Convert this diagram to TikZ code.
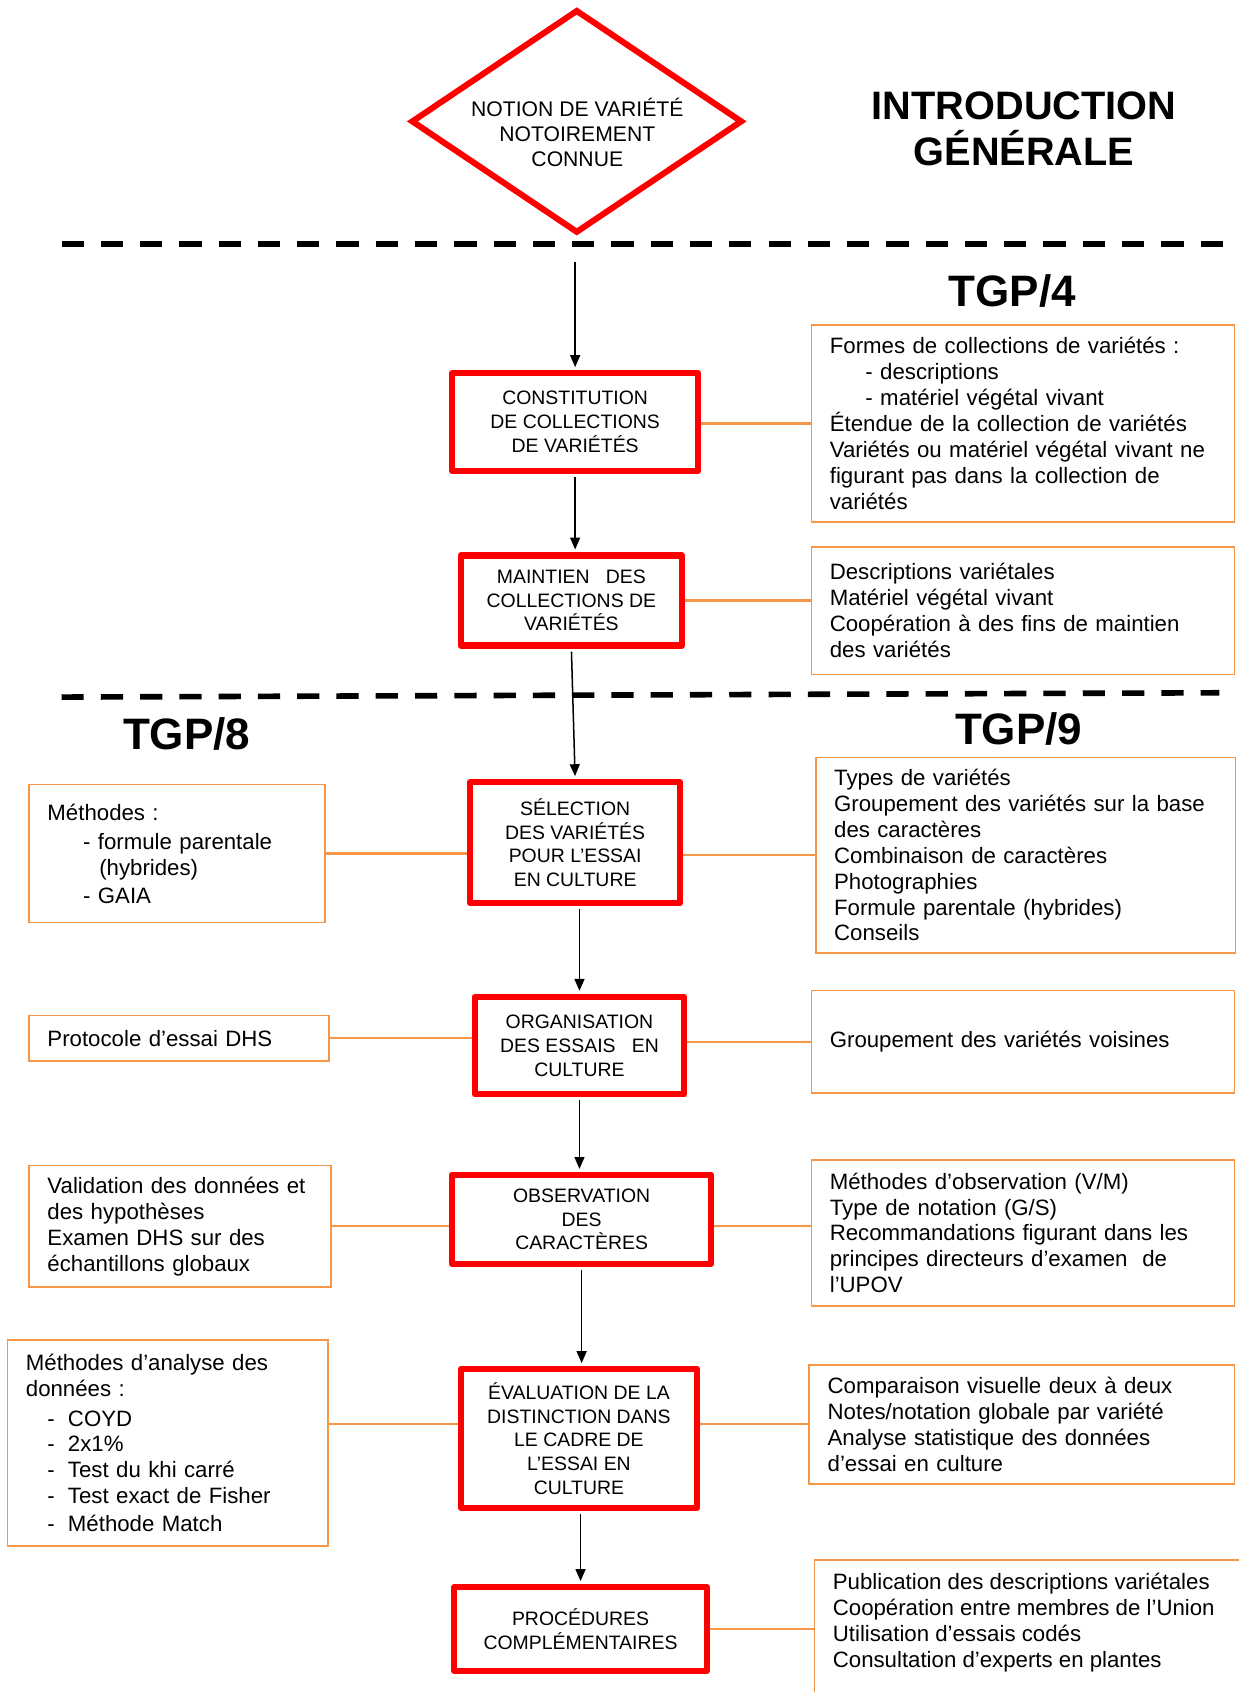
\documentclass[tikz,border=0pt]{standalone}
\usepackage{fontspec}
\setmainfont{Liberation Sans}
\usepackage{tikz}
\usepackage{xcolor}
\usetikzlibrary{shapes.geometric,arrows.meta}
\definecolor{boxred}{RGB}{255,0,0}
\definecolor{boxorange}{RGB}{247,150,70}
\newcommand{\listdash}{\hspace*{10pt}\makebox[9.5pt][l]{-}}

\begin{document}
\begin{tikzpicture}
[x=0.5pt,y=-0.5pt,
      stage/.style={draw=boxred,line width=2.8pt,line join=round,align=center,
        inner sep=0pt,font=\fontsize{9}{11}\selectfont},
      info/.style={draw=boxorange,line width=0.8pt,align=left,inner xsep=8.5pt,
        font=\fontsize{10.3}{12}\selectfont},
      link/.style={draw=boxorange,line width=1pt},
      flow/.style={-{Triangle[length=5.5pt,width=4.6pt]},line width=0.7pt,
        shorten <=1.4pt,shorten >=1.4pt},
      divider/.style={line width=2.6pt,dash pattern=on 10.3pt off 7.9pt},
      heading/.style={font=\fontsize{20.4}{24}\selectfont\bfseries}]
 \useasboundingbox (0,0) rectangle (1148,1568);
 \clip (0,0) rectangle (1148,1568);

 \node[draw=boxred,line width=2.8pt,shape=diamond,inner sep=0pt,
   minimum width=153.5pt,minimum height=103.5pt] (notion) at (534.5,112.5) {};
 \node[align=center,font=\fontsize{9.8}{11.5}\selectfont] (notiontext) at (535,123)
   {NOTION DE VARIÉTÉ\\NOTOIREMENT\\CONNUE};
 \node[align=center,font=\fontsize{18.4}{21.5}\selectfont\bfseries] (intro) at (949,119.5)
   {INTRODUCTION\\GÉNÉRALE};
 \node[heading] (tgpfour) at (938,270) {TGP/4};
 \node[heading] (tgpeight) at (173,680) {TGP/8};
 \node[heading] (tgpnine) at (944,676) {TGP/9};

 \draw[divider] (57,226) -- (1140,226);
 \draw[divider] (57,646) -- (1130,642);

 \node[stage,minimum width=114.2pt,minimum height=45.2pt] (constitution) at (533,391)
   {CONSTITUTION\\DE COLLECTIONS\\DE VARIÉTÉS};
 \node[stage,minimum width=102.7pt,minimum height=41.7pt] (maintien) at (529.5,556.5)
   {MAINTIEN\ \ \ DES\\COLLECTIONS DE\\VARIÉTÉS};
 \node[stage,minimum width=97.2pt,minimum height=56.2pt] (selection) at (533,781)
   {SÉLECTION\\DES VARIÉTÉS\\POUR L’ESSAI\\EN CULTURE};
 \node[stage,minimum width=97.2pt,minimum height=45.2pt] (organisation) at (537,969)
   {ORGANISATION\\DES ESSAIS\ \ \ EN\\CULTURE};
 \node[stage,minimum width=120.2pt,minimum height=41.2pt] (observation) at (539,1130)
   {OBSERVATION\\DES\\CARACTÈRES};
 \node[stage,minimum width=109.7pt,minimum height=64.2pt] (evaluation) at (536.5,1333)
   {ÉVALUATION DE LA\\DISTINCTION DANS\\LE CADRE DE\\L’ESSAI EN\\CULTURE};
 \node[stage,minimum width=117.2pt,minimum height=38.7pt] (procedures) at (538,1509.5)
   {PROCÉDURES\\COMPLÉMENTAIRES};

 \node[info,text width=179pt,minimum height=91.5pt] (collinfo) at (948,392.5)
   {Formes de collections de variétés :\\
    \hspace*{16.5pt}- descriptions\\
    \hspace*{16.5pt}- matériel végétal vivant\\
    Étendue de la collection de variétés\\
    Variétés ou matériel végétal vivant ne\\
    figurant pas dans la collection de\\
    variétés};
 \node[info,text width=179pt,minimum height=59pt] (maintinfo) at (948,566)
   {Descriptions variétales\\Matériel végétal vivant\\
    Coopération à des fins de maintien\\des variétés};
 \node[info,text width=177.5pt,minimum height=90.5pt] (selinfo) at (950.5,792.5)
   {Types de variétés\\Groupement des variétés sur la base\\des caractères\\
    Combinaison de caractères\\Photographies\\Formule parentale (hybrides)\\Conseils};
 \node[info,text width=179pt,minimum height=47.5pt] (orginfo) at (948,965.5)
   {Groupement des variétés voisines};
 \node[info,text width=179pt,minimum height=67.5pt] (obsinfo) at (948,1142.5)
   {Méthodes d’observation (V/M)\\Type de notation (G/S)\\
    Recommandations figurant dans les\\principes directeurs d’examen\ \ de\\l’UPOV};
 \node[info,text width=180pt,minimum height=55pt] (evalinfo) at (947,1320)
   {Comparaison visuelle deux à deux\\Notes/notation globale par variété\\
    Analyse statistique des données\\d’essai en culture};
 \node[info,anchor=north west,inner ysep=6pt] (procinfo) at (754,1445)
   {\parbox[c][80pt][t]{183pt}{\raggedright
    Publication des descriptions variétales\\Coopération entre membres de l’Union\\
    Utilisation d’essais codés\\Consultation d’experts en plantes}};

 \node[info,text width=120pt,minimum height=64pt] (selmeth) at (164,791)
   {Méthodes :\\[1.5pt]\hspace*{16.5pt}- formule parentale\\
    \hspace*{24pt}(hybrides)\\[1pt]\hspace*{16.5pt}- GAIA\\[4pt]};
 \node[info,text width=122pt,minimum height=21pt] (orgmeth) at (166,962)
   {Protocole d’essai DHS};
 \node[info,text width=123pt,minimum height=56.5pt] (obsmeth) at (167,1136.5)
   {Validation des données et\\des hypothèses\\Examen DHS sur des\\échantillons globaux};
 \node[info,text width=131.5pt,minimum height=95.5pt] (evalmeth) at (155.5,1337.5)
   {Méthodes d’analyse des\\données :\\[1.5pt]\listdash COYD\\\listdash 2x1\%\\
    \listdash Test du khi carré\\\listdash Test exact de Fisher\\[1pt]\listdash Méthode Match};

 \coordinate (entry) at (533,240);
 \draw[flow] (entry) -- (constitution.north);
 \draw[flow] (constitution.south) -- (constitution.south |- maintien.north);
 \draw[flow] (maintien.south) -- (selection.north);
 \draw[flow] (selection.south -| organisation.north) -- (organisation.north);
 \draw[flow] (organisation.south) -- (organisation.south |- observation.north);
 \draw[flow] (observation.south) -- (observation.south |- evaluation.north);
 \draw[flow] (evaluation.south -| procedures.north) -- (procedures.north);

 \draw[link] (constitution.east |- collinfo.west) -- (collinfo.west);
 \draw[link] (maintien.east) -- (maintien.east -| maintinfo.west);
 \draw[link] (selmeth.east) -- (selmeth.east -| selection.west);
 \draw[link] (selection.east |- selinfo.west) -- (selinfo.west);
 \draw[link] (orgmeth.east) -- (orgmeth.east -| organisation.west);
 \draw[link] (organisation.east |- orginfo.west) -- (orginfo.west);
 \draw[link] (obsmeth.east) -- (obsmeth.east -| observation.west);
 \draw[link] (observation.east |- obsmeth.east) -- (obsinfo.west |- obsmeth.east);
 \draw[link] (evalmeth.east |- evalinfo.west) -- (evaluation.west |- evalinfo.west);
 \draw[link] (evaluation.east |- evalinfo.west) -- (evalinfo.west);
 \draw[link] (procedures.east) -- (procedures.east -| procinfo.west);
\end{tikzpicture}
\end{document}
